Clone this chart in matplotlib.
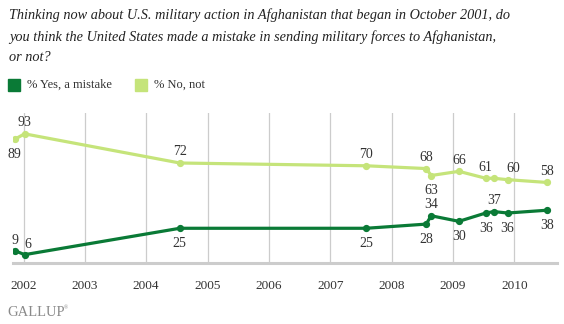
import matplotlib
matplotlib.use("Agg")
import matplotlib.pyplot as plt
import matplotlib.dates as mdates
from matplotlib.patches import Rectangle

# ---- data -------------------------------------------------------------
dates = ["2001-11-08", "2002-01-07", "2004-07-19", "2007-08-03", "2008-07-25",
         "2008-08-24", "2009-02-05", "2009-07-15", "2009-09-01", "2009-11-22",
         "2010-07-15"]
yes_mistake = [9, 6, 25, 25, 28, 34, 30, 36, 37, 36, 38]
no_not = [89, 93, 72, 70, 68, 63, 66, 61, 61, 60, 58]
year_ticks = list(range(2002, 2011))

# label placement per point: offset in points (dx, dy); None = no label
yes_offsets = [(0, 7), (2, 7), (0, -11), (0, -11), (0, -11), (0, 8),
               (0, -11), (0, -11), (0, 8), (0, -11), (0, -11)]
no_offsets = [(0, -11), (0, 8), (0, 8), (0, 8), (0, 8), (0, -11),
              (0, 8), (0, 8), None, (4, 8), (0, 8)]

DARK = "#0a7a36"
LIGHT = "#c5e47a"
SERIF = "Liberation Serif"
W, H = 564, 324


def fx(px):
    return px / W


def fy(py):
    return 1 - py / H


x = mdates.datestr2num(dates)

fig = plt.figure(figsize=(W / 100, H / 100), dpi=100)
ax = fig.add_axes([fx(13), fy(263), fx(557) - fx(13), fy(113) - fy(263)])

x_lo = mdates.datestr2num("2001-10-30")
x_hi = mdates.datestr2num("2010-09-12")
ax.set_xlim(x_lo, x_hi)
ax.set_ylim(0, 108)

for yr in year_ticks:
    ax.axvline(mdates.datestr2num(f"{yr}-01-01"), color="#cccccc", lw=0.9, zorder=0)
ax.axhline(0, color="#cccccc", lw=2.2, zorder=1, clip_on=False)

ax.plot(x, no_not, color=LIGHT, lw=2.3, marker="o", ms=4.2, zorder=3)
ax.plot(x, yes_mistake, color=DARK, lw=2.3, marker="o", ms=4.2, zorder=3)

lab_kw = dict(family=SERIF, fontsize=10, color="#333333",
              ha="center", va="center", textcoords="offset points")
for xi, v, off in zip(x, yes_mistake, yes_offsets):
    if off:
        ax.annotate(str(v), (xi, v), xytext=off, **lab_kw)
for xi, v, off in zip(x, no_not, no_offsets):
    if off:
        ax.annotate(str(v), (xi, v), xytext=off, **lab_kw)

ax.set_xticks([mdates.datestr2num(f"{yr}-01-01") for yr in year_ticks])
ax.set_xticklabels([str(y) for y in year_ticks], family=SERIF,
                   fontsize=9.5, color="#333333")
ax.tick_params(axis="x", length=0, pad=12)
ax.set_yticks([])
for s in ax.spines.values():
    s.set_visible(False)

# title
title = ("Thinking now about U.S. military action in Afghanistan that began in October 2001, do\n"
         "you think the United States made a mistake in sending military forces to Afghanistan,\n"
         "or not?")
fig.text(fx(9), fy(8), title, family=SERIF, style="italic", fontsize=10.3,
         color="#222222", va="top", ha="left", linespacing=1.75)

# legend
for (x0, lbl, col) in [(8, "% Yes, a mistake", DARK), (135, "% No, not", LIGHT)]:
    fig.patches.append(Rectangle((fx(x0), fy(91)), fx(12), 12 / H, color=col,
                                 transform=fig.transFigure, figure=fig))
    fig.text(fx(x0 + 19), fy(85), lbl, family=SERIF, fontsize=9,
             color="#333333", va="center", ha="left")

# logo
fig.text(fx(7), fy(313), "GALLUP", family=SERIF, fontsize=10.5,
         color="#8a8a8a", va="center", ha="left")
fig.text(fx(64), fy(308), "®", family=SERIF, fontsize=4,
         color="#8a8a8a", va="center", ha="left")

fig.savefig("out.png", dpi=100)
